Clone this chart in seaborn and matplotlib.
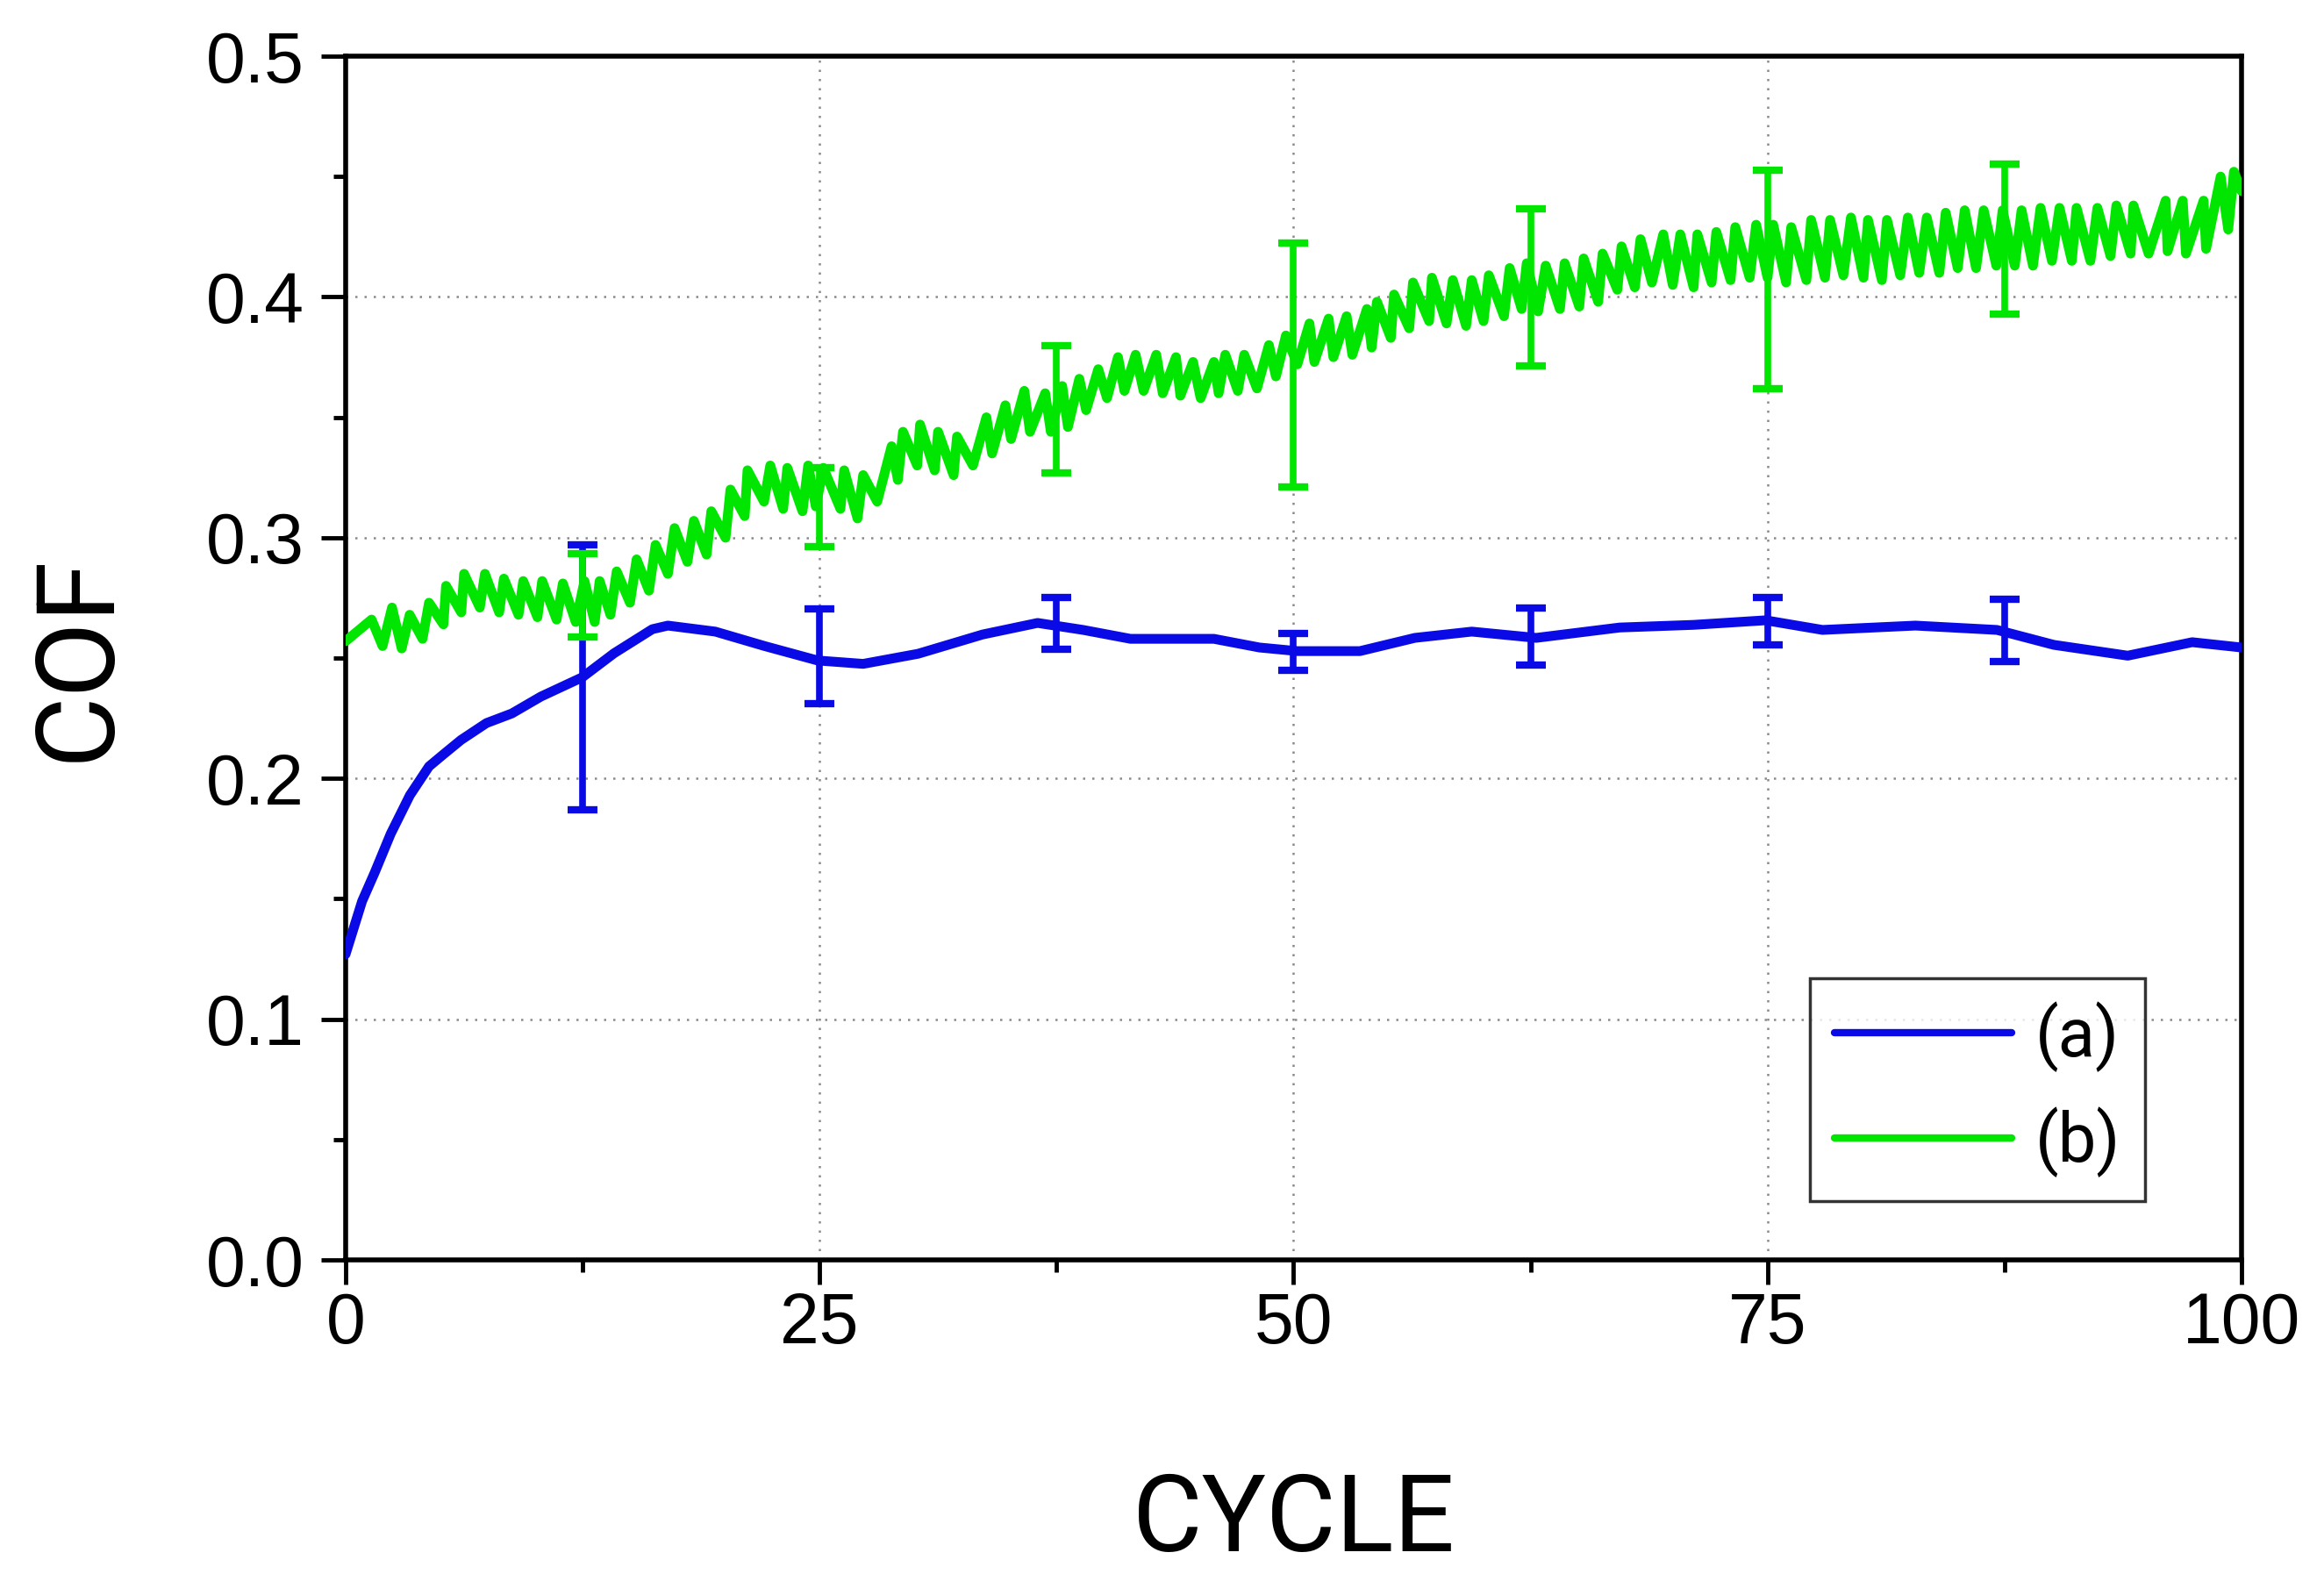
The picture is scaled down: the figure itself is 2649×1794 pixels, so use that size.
import numpy as np
import pandas as pd
import matplotlib
matplotlib.use("Agg")
import matplotlib.pyplot as plt
import seaborn as sns
from matplotlib.ticker import MultipleLocator, FormatStrFormatter

# curve (a): smooth COF trace
blue_cycle = [0, 0.87, 1.54, 2.38, 3.39, 4.4, 5.16, 6.09, 7.43, 8.77, 10.3, 12.48,
              14.16, 16.18, 17.0, 19.5, 22.1, 24.9, 27.3, 30.2, 33.6, 36.5, 38.9,
              41.4, 45.8, 48.2, 50.2, 53.5, 56.4, 59.4, 62.8, 67.2, 71.1, 74.9,
              77.9, 82.8, 87.1, 90.1, 94.0, 97.4, 100]
blue_cof = [0.127, 0.149, 0.161, 0.177, 0.193, 0.205, 0.210, 0.216, 0.223, 0.227,
            0.234, 0.242, 0.252, 0.262, 0.2635, 0.261, 0.255, 0.249, 0.2476, 0.2518,
            0.2598, 0.2646, 0.2617, 0.258, 0.258, 0.2544, 0.2529, 0.2529, 0.2584,
            0.261, 0.2584, 0.2627, 0.2638, 0.2657, 0.2617, 0.2635, 0.2617, 0.2555,
            0.251, 0.2566, 0.2544]

# curve (b): oscillating COF trace, peaks and troughs read per cycle
green_cycle = [0, 1.37, 1.95, 2.45, 2.96, 3.38, 4.06, 4.4, 5.16, 5.3, 6.1, 6.25,
               7.08, 7.35, 8.1, 8.35, 9.12, 9.37, 10.12, 10.37, 11.13, 11.46, 12.14,
               12.6, 13.14, 13.4, 13.97, 14.3, 15.0, 15.35, 16.0, 16.35, 17.0, 17.35,
               18.03, 18.37, 19.04, 19.29, 20.04, 20.3, 21.05, 21.2, 22.07, 22.4,
               23.08, 23.3, 24.1, 24.4, 24.8, 25.2, 26.1, 26.3, 27.0, 27.3, 28.04,
               28.8, 29.13, 29.4, 30.15, 30.3, 31.07, 31.25, 32.07, 32.25, 33.09,
               33.8, 34.1, 34.8, 35.1, 35.8, 36.1, 36.9, 37.2, 37.8, 38.1, 38.7,
               39.06, 39.7, 40.16, 40.74, 41.08, 41.67, 42.09, 42.76, 43.1, 43.8,
               44.03, 44.7, 45.1, 45.8, 46.05, 46.4, 47.06, 47.4, 48.07, 48.7, 49.07,
               49.6, 50.2, 50.84, 51.1, 51.85, 52.1, 52.8, 53.1, 53.87, 54.12, 54.4,
               55.13, 55.3, 56.1, 56.3, 57.15, 57.3, 58.07, 58.4, 59.1, 59.4, 60.02,
               60.3, 61.1, 61.4, 62.03, 62.3, 62.9, 63.3, 64.05, 64.3, 65.07, 65.3,
               66.07, 66.3, 67.08, 67.3, 68.0, 68.3, 68.9, 69.5, 70.0, 70.4, 71.1,
               71.3, 72.05, 72.3, 73.05, 73.3, 74.06, 74.4, 75.0, 75.3, 75.98, 76.25,
               77.05, 77.3, 78.03, 78.3, 79.0, 79.4, 80.06, 80.3, 81.03, 81.3, 82.0,
               82.4, 83.0, 83.4, 84.06, 84.4, 85.03, 85.4, 86.0, 86.4, 87.07, 87.4,
               88.04, 88.4, 89.0, 89.4, 90.0, 90.4, 91.05, 91.3, 92.03, 92.4, 93.09,
               93.4, 94.15, 94.3, 95.1, 96.0, 96.1, 96.9, 97.07, 98.0, 98.13, 98.9,
               99.3, 99.6, 100]
green_cof = [0.257, 0.266, 0.255, 0.271, 0.254, 0.268, 0.258, 0.273, 0.264, 0.280,
             0.269, 0.285, 0.271, 0.285, 0.269, 0.283, 0.268, 0.282, 0.267, 0.282,
             0.266, 0.281, 0.265, 0.282, 0.265, 0.282, 0.268, 0.286, 0.273, 0.291,
             0.278, 0.297, 0.285, 0.304, 0.290, 0.307, 0.293, 0.311, 0.300, 0.320,
             0.309, 0.328, 0.315, 0.330, 0.312, 0.329, 0.311, 0.330, 0.313, 0.329,
             0.312, 0.328, 0.308, 0.326, 0.315, 0.338, 0.324, 0.344, 0.330, 0.347,
             0.328, 0.344, 0.326, 0.342, 0.330, 0.350, 0.335, 0.355, 0.341, 0.361,
             0.344, 0.360, 0.344, 0.363, 0.346, 0.366, 0.353, 0.370, 0.358, 0.375,
             0.361, 0.376, 0.361, 0.376, 0.360, 0.375, 0.359, 0.373, 0.358, 0.373,
             0.360, 0.376, 0.361, 0.376, 0.362, 0.380, 0.367, 0.384, 0.372, 0.389,
             0.373, 0.391, 0.375, 0.392, 0.376, 0.395, 0.379, 0.398, 0.383, 0.401,
             0.387, 0.406, 0.390, 0.408, 0.389, 0.407, 0.388, 0.407, 0.390, 0.409,
             0.392, 0.412, 0.395, 0.414, 0.394, 0.413, 0.395, 0.414, 0.396, 0.416,
             0.398, 0.418, 0.403, 0.421, 0.404, 0.424, 0.406, 0.426, 0.405, 0.426,
             0.404, 0.426, 0.406, 0.427, 0.407, 0.429, 0.408, 0.430, 0.408, 0.430,
             0.406, 0.429, 0.407, 0.432, 0.408, 0.432, 0.409, 0.433, 0.408, 0.432,
             0.407, 0.432, 0.409, 0.433, 0.410, 0.433, 0.410, 0.435, 0.412, 0.436,
             0.412, 0.436, 0.413, 0.436, 0.413, 0.436, 0.413, 0.437, 0.415, 0.437,
             0.415, 0.437, 0.415, 0.437, 0.417, 0.438, 0.418, 0.438, 0.418, 0.440,
             0.419, 0.440, 0.418, 0.440, 0.420, 0.450, 0.428, 0.452, 0.444]

# error bars (low / high ends)
err_cycle = [12.5, 25, 37.5, 50, 62.5, 75, 87.5]
blue_lo = [0.187, 0.231, 0.2535, 0.245, 0.247, 0.2555, 0.2485]
blue_hi = [0.297, 0.2705, 0.2753, 0.2602, 0.2707, 0.2753, 0.2743]
green_lo = [0.2587, 0.2962, 0.3269, 0.3212, 0.3714, 0.3618, 0.3928]
green_hi = [0.2933, 0.3290, 0.3797, 0.4223, 0.4365, 0.4526, 0.4553]

BLUE = "#0a0ae6"
GREEN = "#00e600"

sns.set_style("white")
plt.rcParams["font.family"] = ["Liberation Sans", "DejaVu Sans"]
plt.rcParams["text.color"] = "black"
plt.rcParams["axes.labelcolor"] = "black"
plt.rcParams["xtick.color"] = "black"
plt.rcParams["ytick.color"] = "black"
LABEL_FONT = ["Roboto", "DejaVu Sans"]

df_a = pd.DataFrame({"cycle": blue_cycle, "cof": blue_cof})
df_b = pd.DataFrame({"cycle": green_cycle, "cof": green_cof})

fig = plt.figure(figsize=(26.49, 17.94), dpi=100)
ax = fig.add_axes([0.1487, 0.1995, 0.8158, 0.7648])

sns.lineplot(data=df_a, x="cycle", y="cof", ax=ax, color=BLUE, linewidth=8,
             estimator=None, label="(a)", zorder=3)
lo = np.array(blue_lo); hi = np.array(blue_hi)
ax.errorbar(err_cycle, (lo + hi) / 2, yerr=(hi - lo) / 2, fmt="none",
            ecolor=BLUE, elinewidth=5.5, capsize=12, capthick=6, zorder=4)

sns.lineplot(data=df_b, x="cycle", y="cof", ax=ax, color=GREEN, linewidth=8,
             estimator=None, label="(b)", zorder=5)
lo = np.array(green_lo); hi = np.array(green_hi)
ax.errorbar(err_cycle, (lo + hi) / 2, yerr=(hi - lo) / 2, fmt="none",
            ecolor=GREEN, elinewidth=5.5, capsize=12, capthick=6, zorder=6)

ax.set_xlim(0, 100)
ax.set_ylim(0, 0.5)
ax.xaxis.set_major_locator(MultipleLocator(25))
ax.xaxis.set_minor_locator(MultipleLocator(12.5))
ax.yaxis.set_major_locator(MultipleLocator(0.1))
ax.yaxis.set_minor_locator(MultipleLocator(0.05))
ax.yaxis.set_major_formatter(FormatStrFormatter("%.1f"))

ax.grid(True, which="major", color="#8a8a8a", lw=1.8, linestyle=(0, (1, 3.2)))
ax.set_axisbelow(True)

for s in ax.spines.values():
    s.set_linewidth(4)
    s.set_color("black")

ax.tick_params(axis="both", which="major", direction="out", length=20, width=3.5,
               labelsize=58, color="black", labelcolor="black")
ax.tick_params(axis="both", which="minor", direction="out", length=10, width=3.5,
               color="black")
ax.tick_params(axis="x", which="both", bottom=True, top=False, pad=6)
ax.tick_params(axis="y", which="both", left=True, right=False, pad=14)

ax.set_xlabel("CYCLE", fontsize=88, family=LABEL_FONT, labelpad=92, color="black")
ax.set_ylabel("COF", fontsize=90, family=LABEL_FONT, labelpad=62, color="black")

leg = ax.legend(loc="lower right", bbox_to_anchor=(0.949, 0.0488), borderaxespad=0,
                prop={"family": LABEL_FONT, "size": 56},
                frameon=True, fancybox=False, handlelength=2.6, handletextpad=0.35,
                borderpad=0.35, labelspacing=0.5)
leg.get_frame().set_edgecolor("black")
leg.get_frame().set_linewidth(2.5)
for t in leg.get_texts():
    t.set_color("black")
for h in leg.get_lines():
    h.set_linewidth(6)

fig.savefig("out.png", dpi=100)
